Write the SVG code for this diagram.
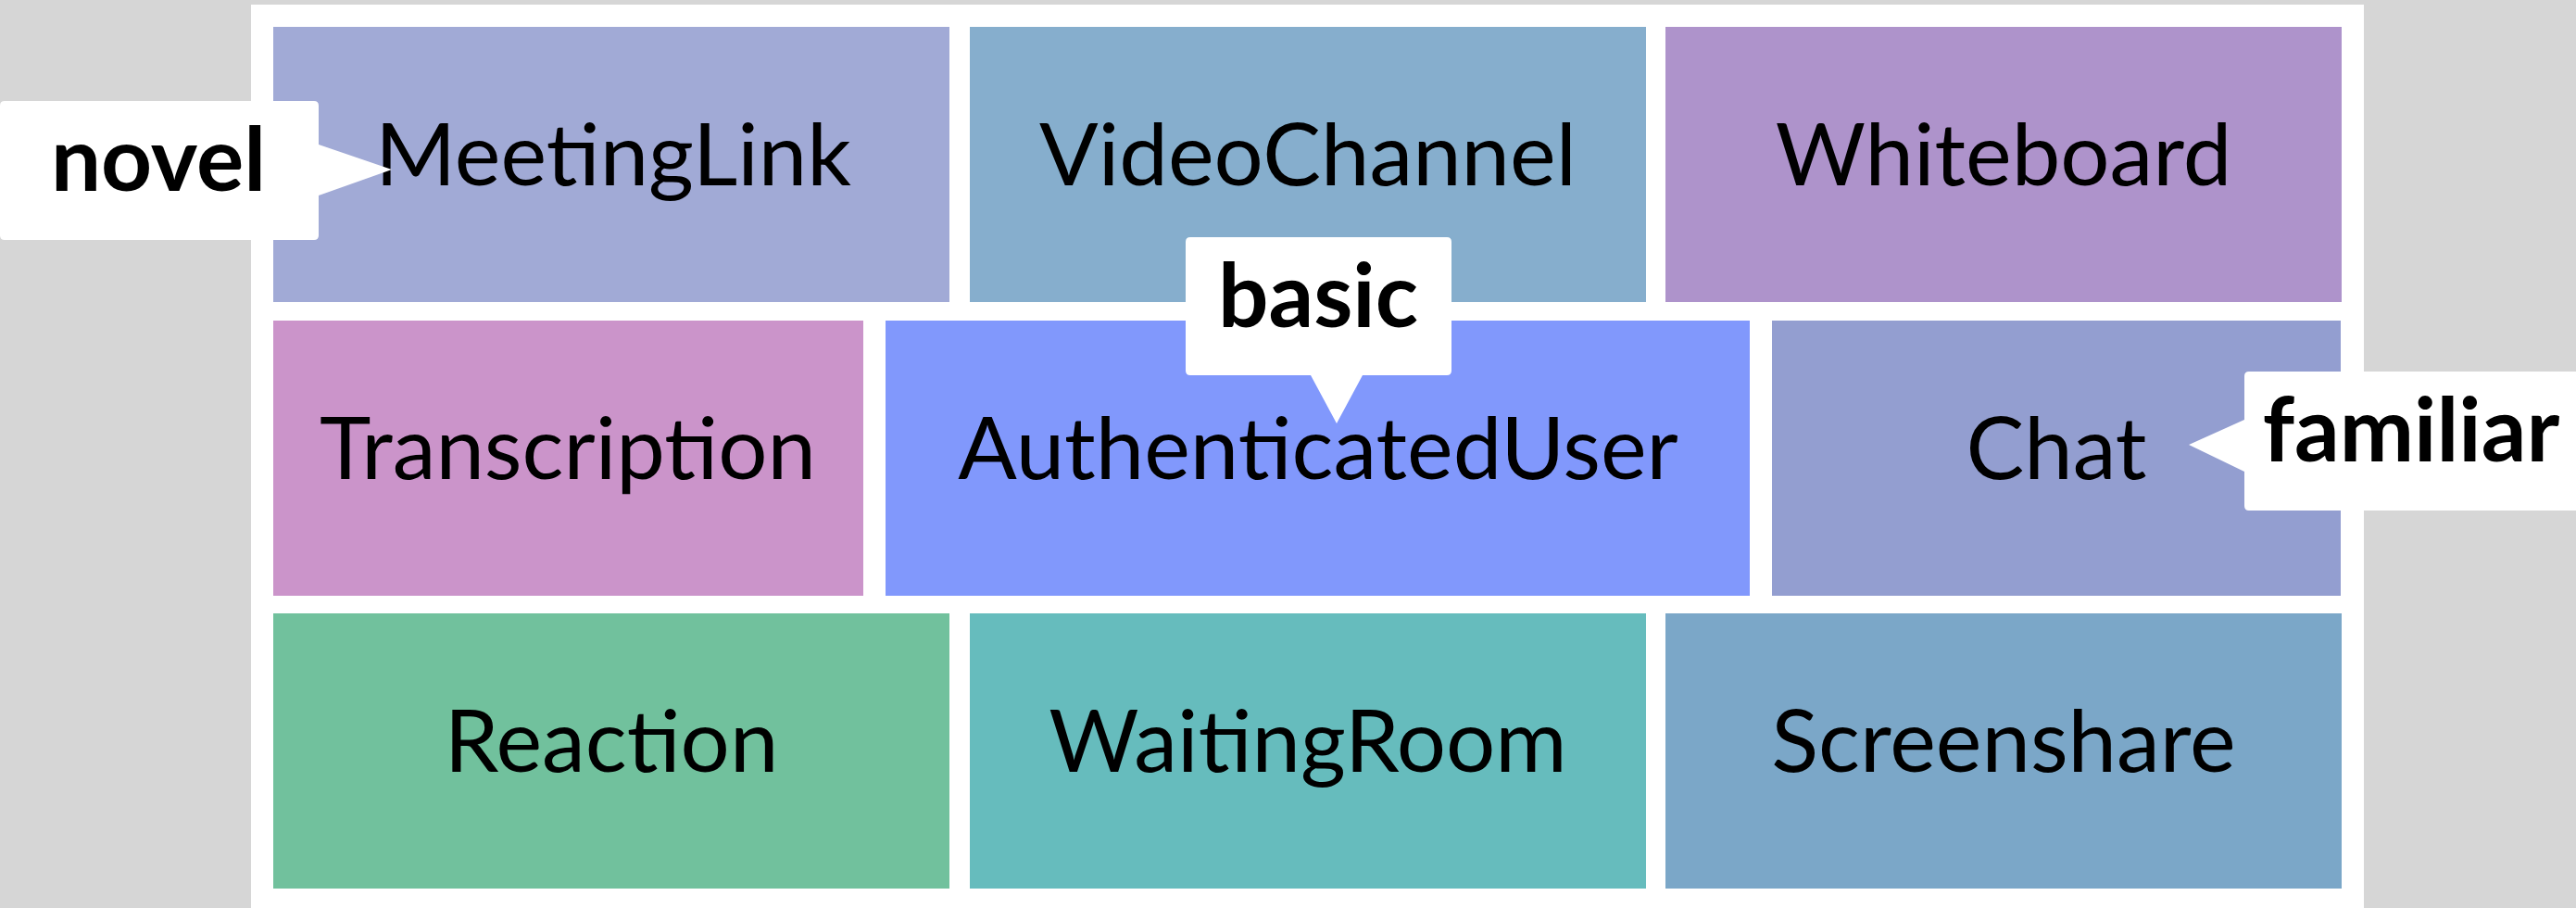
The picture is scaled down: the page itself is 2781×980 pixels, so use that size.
<svg xmlns="http://www.w3.org/2000/svg" width="2781" height="980" viewBox="0 0 2781 980">
<style>
.n{font-family:Lato,"Open Sans","Liberation Sans",sans-serif;font-size:94px;fill:#000;text-anchor:middle}
.l{font-family:Lato,"Open Sans","Liberation Sans",sans-serif;font-size:96px;font-weight:bold;fill:#000;text-anchor:middle}
.c{fill:#fff}
</style>
<rect x="0" y="0" width="2781" height="980" fill="#d6d6d6"/>
<rect x="271" y="5" width="2281" height="990" fill="#fff"/>
<g id="MeetingLink"><rect x="295" y="29" width="730" height="297" fill="#a1aad6"/><text class="n" x="662" y="200">MeetingLink</text></g>
<g id="VideoChannel"><rect x="1047" y="29" width="730" height="297" fill="#86aecd"/><text class="n" x="1412" y="200">VideoChannel</text></g>
<g id="Whiteboard"><rect x="1798" y="29" width="730" height="297" fill="#ae93cb"/><text class="n" x="2163" y="200">Whiteboard</text></g>
<g id="Transcription"><rect x="295" y="346" width="637" height="297" fill="#cb94ca"/><text class="n" x="613" y="517">Transcription</text></g>
<g id="AuthenticatedUser"><rect x="956" y="346" width="933" height="297" fill="#8198fc"/><text class="n" x="1423" y="517">AuthenticatedUser</text></g>
<g id="Chat"><rect x="1913" y="346" width="614" height="297" fill="#939ed0"/><text class="n" x="2220" y="517">Chat</text></g>
<g id="Reaction"><rect x="295" y="662" width="730" height="297" fill="#71c19d"/><text class="n" x="660" y="833">Reaction</text></g>
<g id="WaitingRoom"><rect x="1047" y="662" width="730" height="297" fill="#66bcbd"/><text class="n" x="1412" y="833">WaitingRoom</text></g>
<g id="Screenshare"><rect x="1798" y="662" width="730" height="297" fill="#7ba7c8"/><text class="n" x="2163" y="833">Screenshare</text></g>
<g id="connectors"></g>
<g id="label-novel"><path class="c" d="M0,114 Q0,109 5,109 L339,109 Q344,109 344,114 L344,156 L423,183 L344,211 L344,254 Q344,259 339,259 L5,259 Q0,259 0,254 Z"/><text class="l" x="171" y="206">novel</text></g>
<g id="label-basic"><path class="c" d="M1285,256 L1562,256 Q1567,256 1567,261 L1567,400 Q1567,405 1562,405 L1471,405 L1443,457 L1415,405 L1285,405 Q1280,405 1280,400 L1280,261 Q1280,256 1285,256 Z"/><text class="l" x="1423" y="353">basic</text></g>
<g id="label-familiar"><path class="c" d="M2428,401 L2810,401 L2810,551 L2428,551 Q2423,551 2423,546 L2423,509 L2363,480 L2423,453 L2423,406 Q2423,401 2428,401 Z"/><text class="l" x="2603" y="498">familiar</text></g>
</svg>
